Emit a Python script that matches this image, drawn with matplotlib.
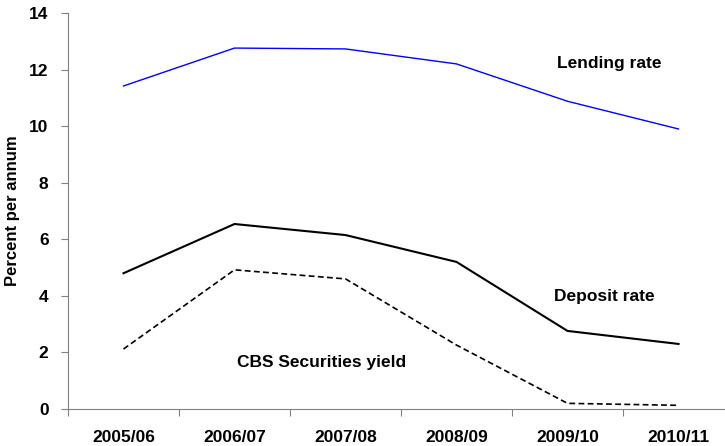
import matplotlib
matplotlib.use("Agg")
import matplotlib.pyplot as plt

categories = ["2005/06", "2006/07", "2007/08", "2008/09", "2009/10", "2010/11"]
lending = [11.42, 12.76, 12.73, 12.2, 10.88, 9.9]
deposit = [4.8, 6.54, 6.15, 5.2, 2.76, 2.3]
cbs = [2.12, 4.92, 4.6, 2.26, 0.2, 0.13]

plt.rcParams['font.family'] = ['Liberation Sans', 'DejaVu Sans']

fig = plt.figure(figsize=(7.25, 4.46), dpi=100)
ax = fig.add_axes([68/725, 1-409/446, 666/725, (409-13)/446])
x = list(range(len(categories)))
ax.plot(x, lending, color='#0000ff', lw=1.0)
ax.plot(x, deposit, color='black', lw=1.5)
ax.plot(x, cbs, color='black', lw=1.2, ls=(0, (3.5, 2)))

ax.set_xlim(-0.5, len(categories) - 0.5)
ax.set_ylim(0, 14)
ax.set_yticks(range(0, 15, 2))
ax.set_xticks([i - 0.5 for i in range(len(categories) + 1)], minor=False)
ax.set_xticklabels([])
ax.set_xticks(x, minor=True)
ax.set_xticklabels(categories, minor=True, fontsize=12.5, fontweight='bold')
ax.tick_params(axis='x', which='minor', length=0, pad=15)
ax.tick_params(axis='x', which='major', length=5, direction='out', color='#808080')
ax.tick_params(axis='y', length=5, direction='out', color='#808080', labelsize=12.5, pad=9)
for lbl in ax.get_yticklabels():
    lbl.set_fontweight('bold')
for s in ['top', 'right']:
    ax.spines[s].set_visible(False)
for s in ['left', 'bottom']:
    ax.spines[s].set_color('#808080')
ax.set_ylabel("Percent per annum", fontsize=12, fontweight='bold')
ax.yaxis.set_label_coords(-0.072, 0.5)

ax.text(4.38, 12.23, "Lending rate", fontsize=12.5, fontweight='bold', ha='center', va='center')
ax.text(4.33, 3.99, "Deposit rate", fontsize=12.5, fontweight='bold', ha='center', va='center')
ax.text(1.78, 1.63, "CBS Securities yield", fontsize=12.5, fontweight='bold', ha='center', va='center')

fig.savefig("out.png", dpi=100)
